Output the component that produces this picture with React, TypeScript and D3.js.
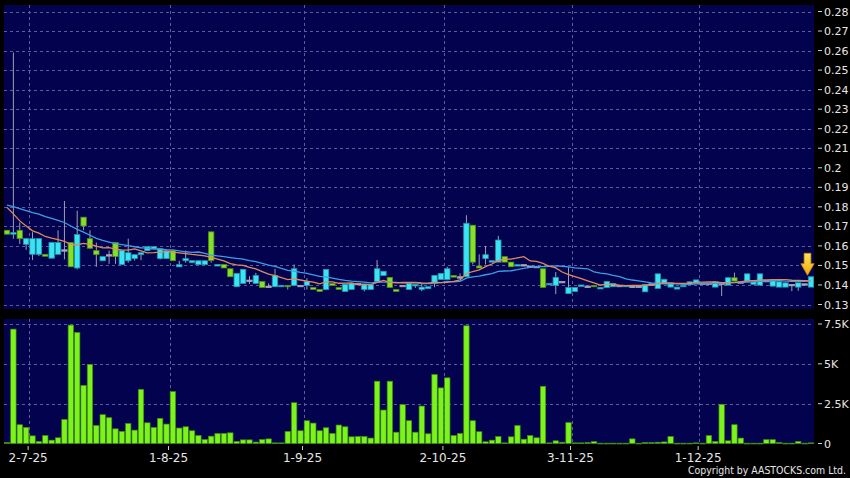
import React from "react";
import * as d3 from "d3";

// daily candles, oldest first (127 trading days)
const dayOpen = [
  0.168, 0.166, 0.168, 0.1608, 0.1557, 0.1557, 0.1557, 0.1537, 0.1557, 0.158,
  0.1617, 0.1487, 0.1747, 0.1637, 0.1576, 0.1524, 0.1555, 0.1617, 0.1504, 0.1524,
  0.1535, 0.1555, 0.1576, 0.1583, 0.1535, 0.1535, 0.1576, 0.1493, 0.1524, 0.1514,
  0.1504, 0.1504, 0.1672, 0.1497, 0.1505, 0.1483, 0.1391, 0.1408, 0.1425, 0.1408,
  0.1418, 0.1394, 0.1391, 0.1391, 0.1398, 0.1398, 0.1398, 0.1398, 0.1387, 0.1377,
  0.1377, 0.1408, 0.1387, 0.1367, 0.1377, 0.1408, 0.1377, 0.1377, 0.1418, 0.1449,
  0.1439, 0.1377, 0.1398, 0.1377, 0.1395, 0.1377, 0.1381, 0.1408, 0.1428, 0.1428,
  0.1449, 0.1442, 0.1442, 0.1706, 0.1497, 0.1535, 0.1517, 0.1517, 0.1545, 0.1517,
  0.1497, 0.1504, 0.1497, 0.1495, 0.1483, 0.1401, 0.1398, 0.1418, 0.1356, 0.1367,
  0.1396, 0.1394, 0.1398, 0.1381, 0.1387, 0.1391, 0.1398, 0.1391, 0.1394, 0.1394,
  0.1365, 0.1406, 0.1382, 0.1406, 0.1389, 0.1379, 0.1391, 0.1403, 0.1406, 0.141,
  0.141, 0.1389, 0.141, 0.1399, 0.1437, 0.1416, 0.1416, 0.1403, 0.1399, 0.1423,
  0.1394, 0.1389, 0.1389, 0.1403, 0.1389, 0.1406, 0.1389,
];
const dayHigh = [
  0.168, 0.259, 0.172, 0.1637, 0.167, 0.1637, 0.1557, 0.1617, 0.168, 0.183,
  0.1617, 0.178, 0.1747, 0.168, 0.1617, 0.1545, 0.1576, 0.162, 0.1576, 0.1637,
  0.1555, 0.1565, 0.1596, 0.1596, 0.1586, 0.1576, 0.1576, 0.1524, 0.1576, 0.1524,
  0.1524, 0.1524, 0.1672, 0.1505, 0.1505, 0.1483, 0.1459, 0.148, 0.1445, 0.1462,
  0.1418, 0.1408, 0.1483, 0.1398, 0.1398, 0.1505, 0.1398, 0.1435, 0.1387, 0.1377,
  0.148, 0.1408, 0.1387, 0.1404, 0.1408, 0.1408, 0.1401, 0.1401, 0.1528, 0.147,
  0.1439, 0.1377, 0.1398, 0.1408, 0.1403, 0.1405, 0.1391, 0.1449, 0.1459, 0.1493,
  0.1449, 0.1459, 0.1757, 0.1706, 0.1557, 0.16, 0.1524, 0.1651, 0.1545, 0.1517,
  0.1504, 0.1504, 0.1497, 0.1495, 0.1483, 0.1408, 0.1466, 0.1418, 0.149, 0.1387,
  0.14, 0.1394, 0.1398, 0.1387, 0.1418, 0.1408, 0.1398, 0.1398, 0.1394, 0.1394,
  0.1403, 0.1406, 0.1457, 0.1429, 0.1411, 0.1389, 0.1398, 0.1418, 0.1426, 0.141,
  0.141, 0.1416, 0.1415, 0.1437, 0.1463, 0.1416, 0.1457, 0.1416, 0.1457, 0.1423,
  0.1423, 0.1416, 0.1411, 0.1403, 0.1411, 0.1406, 0.1442,
];
const dayLow = [
  0.166, 0.1637, 0.161, 0.158, 0.1528, 0.1548, 0.1547, 0.1537, 0.1557, 0.1531,
  0.1493, 0.148, 0.168, 0.1585, 0.1493, 0.1524, 0.1508, 0.1508, 0.1504, 0.1514,
  0.1525, 0.1527, 0.1576, 0.1583, 0.153, 0.1535, 0.1524, 0.1493, 0.1514, 0.1514,
  0.1504, 0.1504, 0.1514, 0.1497, 0.1487, 0.1442, 0.1391, 0.1408, 0.1405, 0.1408,
  0.1387, 0.1387, 0.1391, 0.1391, 0.1377, 0.1398, 0.1398, 0.1377, 0.1377, 0.1367,
  0.1377, 0.1398, 0.1377, 0.1367, 0.1377, 0.1408, 0.1367, 0.1377, 0.1418, 0.1449,
  0.1387, 0.1367, 0.1398, 0.1377, 0.1385, 0.1368, 0.1381, 0.1388, 0.1428, 0.1428,
  0.144, 0.1432, 0.1442, 0.1505, 0.1487, 0.1505, 0.1517, 0.1517, 0.1517, 0.1493,
  0.1497, 0.1504, 0.1497, 0.1495, 0.1387, 0.1401, 0.1353, 0.1418, 0.1356, 0.1367,
  0.1396, 0.1394, 0.1391, 0.1381, 0.1387, 0.1391, 0.1398, 0.1391, 0.1385, 0.1394,
  0.1365, 0.1406, 0.1382, 0.1406, 0.1389, 0.1379, 0.1391, 0.1403, 0.1406, 0.141,
  0.141, 0.1389, 0.1343, 0.1399, 0.142, 0.1416, 0.1416, 0.1403, 0.1399, 0.1423,
  0.1394, 0.1389, 0.1389, 0.1368, 0.137, 0.1406, 0.1389,
];
const dayClose = [
  0.166, 0.1668, 0.1637, 0.1637, 0.1637, 0.1637, 0.1547, 0.1617, 0.1617, 0.158,
  0.1493, 0.1658, 0.1702, 0.1588, 0.1555, 0.1545, 0.1555, 0.1545, 0.1576, 0.1565,
  0.1555, 0.1565, 0.1596, 0.1596, 0.1586, 0.1576, 0.1524, 0.1504, 0.1535, 0.1524,
  0.1524, 0.1524, 0.1525, 0.1505, 0.1487, 0.1442, 0.1459, 0.148, 0.1425, 0.1449,
  0.1387, 0.1394, 0.1449, 0.1398, 0.1391, 0.1483, 0.1398, 0.1418, 0.1377, 0.1367,
  0.148, 0.1398, 0.1377, 0.1404, 0.1408, 0.1408, 0.1401, 0.1401, 0.1483, 0.147,
  0.1387, 0.1367, 0.1398, 0.1408, 0.1403, 0.1389, 0.1391, 0.1449, 0.1459, 0.1483,
  0.144, 0.1442, 0.1716, 0.1517, 0.1487, 0.1555, 0.1524, 0.163, 0.1517, 0.1493,
  0.1504, 0.1504, 0.1497, 0.1495, 0.1387, 0.1408, 0.1439, 0.1418, 0.1387, 0.1387,
  0.14, 0.1394, 0.1391, 0.1387, 0.1418, 0.1408, 0.1398, 0.1398, 0.1394, 0.1394,
  0.1403, 0.1406, 0.1457, 0.1429, 0.1411, 0.1389, 0.1398, 0.1416, 0.1426, 0.141,
  0.141, 0.1416, 0.141, 0.1437, 0.142, 0.1416, 0.1457, 0.1416, 0.1457, 0.1423,
  0.1423, 0.1416, 0.1411, 0.1403, 0.1411, 0.1406, 0.1442,
];
const dayVolume = [
  60, 7180, 1180, 1010, 480, 130, 500, 210, 360, 1510,
  7430, 6970, 3650, 4960, 1130, 1810, 1620, 920, 760, 1260,
  840, 3400, 1300, 1010, 1580, 1220, 3260, 970, 1050, 800,
  500, 250, 460, 630, 630, 670, 130, 230, 230, 90,
  250, 290, 40, 40, 760, 2560, 800, 1430, 1280, 800,
  990, 630, 1160, 1050, 420, 440, 440, 340, 3910, 2100,
  3910, 710, 2440, 1430, 710, 2350, 610, 4330, 3490, 4120,
  500, 630, 7390, 1430, 740, 110, 210, 440, 40, 420,
  1130, 270, 500, 360, 3590, 40, 170, 80, 1310, 40,
  40, 60, 120, 20, 20, 20, 20, 20, 290, 20,
  60, 60, 80, 100, 440, 20, 20, 20, 40, 20,
  500, 130, 2460, 170, 1180, 340, 20, 20, 20, 240,
  240, 60, 20, 20, 130, 20, 40,
];
// closes before the first shown day, only used to seed the moving averages
const priorCloses = [
  0.183, 0.184, 0.183, 0.184, 0.18, 0.181, 0.18, 0.181, 0.18, 0.185,
  0.2, 0.1995, 0.19, 0.1885, 0.175, 0.172, 0.17, 0.169, 0.167,
];

const priceTicks = [0.13, 0.14, 0.15, 0.16, 0.17, 0.18, 0.19, 0.2, 0.21, 0.22, 0.23, 0.24, 0.25, 0.26, 0.27, 0.28];
const volumeTicks = [0, 2500, 5000, 7500];
const volumeTickLabels = ["0", "2.5K", "5K", "7.5K"];
const dateTickIndex = [3, 25, 46, 68, 88, 108];
const dateTickLabels = ["2-7-25", "1-8-25", "1-9-25", "2-10-25", "3-11-25", "1-12-25"];

const W = 850;
const H = 478;
const left = 4;
const right = 814;
const priceTop = 5;
const priceBottom = 309;
const volTop = 319;
const volBottom = 444;
const font = "DejaVu Sans, Verdana, sans-serif";

function movingAverage(n: number) {
  const all = priorCloses.concat(dayClose);
  const off = priorCloses.length;
  return dayClose.map((_, i) => d3.mean(all.slice(off + i - n + 1, off + i + 1)) as number);
}

export default function App() {
  const x = d3.scaleLinear().domain([0, dayClose.length - 1]).range([7, 811]);
  const yPrice = d3.scaleLinear().domain([0.13, 0.28]).range([304.5, 11.5]);
  const yVol = d3.scaleLinear().domain([0, 7500]).range([443.5, 324]);

  const ma10 = movingAverage(10);
  const ma20 = movingAverage(20);
  const line = d3
    .line<number>()
    .x((_, i) => x(i))
    .y((v) => yPrice(v));

  const bw = 5.4;
  const last = dayClose.length - 1;
  const ax = x(last) - 3.5;
  const tip = yPrice(dayHigh[last]) - 1.5;
  const arrow = `M${ax - 3.4},${tip - 22} L${ax + 3.4},${tip - 22} L${ax + 3.4},${tip - 11.5} L${ax + 6.6},${tip - 11.5} L${ax},${tip} L${ax - 6.6},${tip - 11.5} L${ax - 3.4},${tip - 11.5} Z`;

  return (
    <svg width={W} height={H} style={{ position: "absolute", left: 0, top: 0, background: "#000" }}>
      <defs>
        <clipPath id="pclip">
          <rect x={left} y={priceTop} width={right - left} height={priceBottom - priceTop} />
        </clipPath>
        <linearGradient id="arrowGrad" x1="0" y1="0" x2="0" y2="1">
          <stop offset="0%" stopColor="#ffe45a" />
          <stop offset="100%" stopColor="#f2a60c" />
        </linearGradient>
      </defs>
      <rect x={0} y={0} width={W} height={H} fill="#000" />
      <rect x={left} y={priceTop} width={right - left} height={priceBottom - priceTop} fill="#02024e" />
      <rect x={left} y={volTop} width={right - left} height={volBottom - volTop} fill="#02024e" />

      {/* grid */}
      <g stroke="#5c5c96" strokeWidth={1} strokeDasharray="3,3">
        {priceTicks.map((p) => (
          <line key={"hp" + p} x1={left} x2={right} y1={Math.round(yPrice(p)) + 0.5} y2={Math.round(yPrice(p)) + 0.5} />
        ))}
        {volumeTicks.slice(1).map((v) => (
          <line key={"hv" + v} x1={left} x2={right} y1={Math.round(yVol(v)) + 0.5} y2={Math.round(yVol(v)) + 0.5} />
        ))}
        {dateTickIndex.map((i) => (
          <g key={"vg" + i}>
            <line x1={Math.round(x(i) + 3) + 0.5} x2={Math.round(x(i) + 3) + 0.5} y1={priceTop} y2={priceBottom} />
            <line x1={Math.round(x(i) + 3) + 0.5} x2={Math.round(x(i) + 3) + 0.5} y1={volTop} y2={volBottom} />
          </g>
        ))}
      </g>

      {/* candles */}
      <g clipPath="url(#pclip)">
        {dayClose.map((c, i) => {
          const o = dayOpen[i];
          const cx = x(i);
          const top = yPrice(Math.max(o, c));
          const bot = yPrice(Math.min(o, c));
          const up = c > o;
          const down = c < o;
          const fill = up ? "#3ae4f4" : down ? "#86e02a" : "#a9a9b8";
          const stroke = up ? "#2296aa" : down ? "#4c8c16" : "#a9a9b8";
          return (
            <g key={"c" + i}>
              <line x1={cx} x2={cx} y1={yPrice(dayHigh[i])} y2={yPrice(dayLow[i])} stroke="#a0a0b4" strokeWidth={1} />
              <rect
                x={cx - bw / 2}
                y={top}
                width={bw}
                height={Math.max(bot - top, 1.4)}
                fill={fill}
                stroke={stroke}
                strokeWidth={0.8}
              />
            </g>
          );
        })}
        <path d={line(ma20) || ""} fill="none" stroke="#3d9ee6" strokeWidth={1.3} />
        <path d={line(ma10) || ""} fill="none" stroke="#e08a5c" strokeWidth={1.3} />
      </g>

      <path d={arrow} fill="url(#arrowGrad)" stroke="#c98a00" strokeWidth={0.8} />

      {/* volume */}
      <g>
        {dayVolume.map((v, i) => (
          <rect
            key={"v" + i}
            x={x(i) - bw / 2}
            y={yVol(v)}
            width={bw}
            height={Math.max(yVol(0) - yVol(v), 0.8)}
            fill="#7cf41c"
            stroke="#3f8c10"
            strokeWidth={0.7}
          />
        ))}
      </g>

      {/* right axes */}
      <g fill="#e6e6e6" fontFamily={font} fontSize={11}>
        {priceTicks.map((p) => (
          <g key={"pt" + p}>
            <line x1={818} x2={822} y1={yPrice(p)} y2={yPrice(p)} stroke="#d0d0d0" />
            <text x={824} y={yPrice(p) + 4}>
              {d3.format("")(+p.toFixed(2))}
            </text>
          </g>
        ))}
        {volumeTicks.map((v, k) => (
          <g key={"vt" + v}>
            <line x1={818} x2={822} y1={yVol(v)} y2={yVol(v)} stroke="#d0d0d0" />
            <text x={824} y={yVol(v) + 4}>
              {volumeTickLabels[k]}
            </text>
          </g>
        ))}
      </g>

      {/* date axis */}
      <g fill="#e6e6e6" fontFamily={font} fontSize={12}>
        {dateTickIndex.map((i, k) => (
          <g key={"dt" + i}>
            <line x1={x(i) + 2} x2={x(i) + 2} y1={446} y2={450} stroke="#d0d0d0" />
            <text x={x(i) + 2} y={462} textAnchor="middle">
              {dateTickLabels[k]}
            </text>
          </g>
        ))}
      </g>

      <text
        x={846}
        y={474}
        textAnchor="end"
        fill="#e6e6e6"
        fontFamily={font}
        fontSize={10}
        textLength={158}
        lengthAdjust="spacingAndGlyphs"
      >
        Copyright by AASTOCKS.com Ltd.
      </text>
    </svg>
  );
}
